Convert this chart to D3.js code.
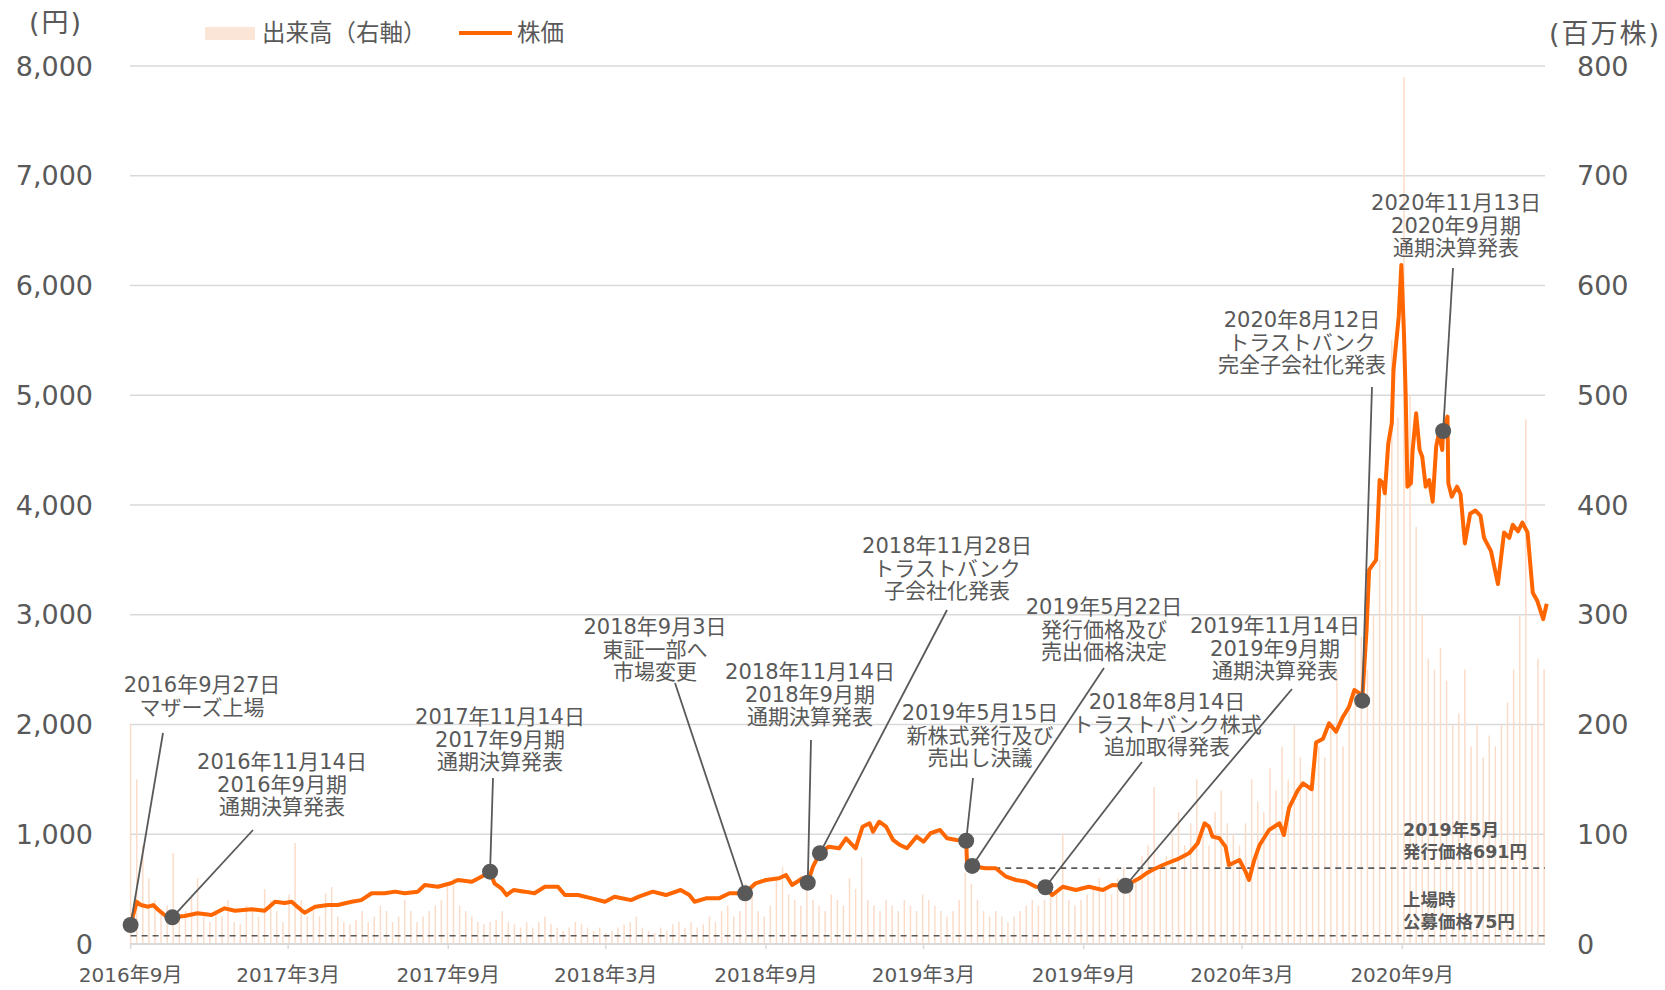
<!DOCTYPE html>
<html>
<head>
<meta charset="utf-8">
<script src="https://cdn.jsdelivr.net/npm/d3@7"></script>
<style>
  body { margin: 0; background: #fff; }
  text { font-family: "DejaVu Sans", "Noto Sans CJK JP", sans-serif; fill: #595959; }
</style>
</head>
<body>
<svg id="chart"></svg>
<script>
// ---- data ----
var priceDates = [
  "2016-09-27","2016-10-04","2016-10-09","2016-10-17","2016-10-23","2016-10-29","2016-11-05","2016-11-14",
  "2016-11-28","2016-12-13","2016-12-29","2017-01-13","2017-01-25","2017-02-13","2017-02-28","2017-03-12",
  "2017-03-23","2017-03-31","2017-04-11","2017-04-15","2017-04-27","2017-05-12","2017-05-23","2017-06-08",
  "2017-06-19","2017-07-01","2017-07-16","2017-07-28","2017-08-08","2017-08-23","2017-08-31","2017-09-15",
  "2017-09-30","2017-10-08","2017-10-24","2017-11-04","2017-11-14","2017-11-19","2017-11-27","2017-12-03",
  "2017-12-11","2017-12-24","2018-01-04","2018-01-16","2018-01-31","2018-02-08","2018-02-23","2018-03-11",
  "2018-03-26","2018-04-06","2018-04-25","2018-05-04","2018-05-20","2018-06-04","2018-06-21","2018-07-01",
  "2018-07-07","2018-07-20","2018-08-04","2018-08-16","2018-09-03","2018-09-15","2018-09-27","2018-10-12",
  "2018-10-20","2018-10-27","2018-11-08","2018-11-14","2018-11-20","2018-11-28","2018-12-08","2018-12-20",
  "2018-12-28","2019-01-08","2019-01-16","2019-01-24","2019-01-28","2019-02-04","2019-02-12","2019-02-20",
  "2019-02-28","2019-03-08","2019-03-19","2019-03-27","2019-04-04","2019-04-15","2019-04-23","2019-05-04",
  "2019-05-15","2019-05-16","2019-05-22","2019-06-06","2019-06-18","2019-06-30","2019-07-11","2019-07-23",
  "2019-08-03","2019-08-14","2019-08-22","2019-09-03","2019-09-18","2019-10-03","2019-10-19","2019-10-30",
  "2019-11-14","2019-11-30","2019-12-08","2019-12-15","2019-12-27","2020-01-15","2020-01-26","2020-02-05",
  "2020-02-13","2020-02-18","2020-02-22","2020-03-01","2020-03-08","2020-03-12","2020-03-24","2020-03-31",
  "2020-04-04","2020-04-10","2020-04-16","2020-04-27","2020-05-09","2020-05-14","2020-05-20","2020-05-30",
  "2020-06-05","2020-06-15","2020-06-20","2020-06-28","2020-07-05","2020-07-13","2020-07-21","2020-07-28",
  "2020-08-03","2020-08-09","2020-08-12","2020-08-17","2020-08-20","2020-08-28","2020-09-01","2020-09-05",
  "2020-09-07","2020-09-11","2020-09-15","2020-09-17","2020-09-23","2020-09-26","2020-09-29","2020-10-01",
  "2020-10-03","2020-10-07","2020-10-09","2020-10-13","2020-10-17","2020-10-20","2020-10-24","2020-10-28",
  "2020-11-01","2020-11-05","2020-11-08","2020-11-12","2020-11-13","2020-11-18","2020-11-19","2020-11-23",
  "2020-11-29","2020-12-03","2020-12-08","2020-12-14","2020-12-20","2020-12-26","2020-12-30","2021-01-07",
  "2021-01-15","2021-01-22","2021-01-28","2021-02-01","2021-02-07","2021-02-12","2021-02-18","2021-02-24",
  "2021-03-01","2021-03-08","2021-03-12"
];
var prices = [
  173, 385, 355, 340, 355, 310, 264, 243,
  255, 280, 264, 325, 303, 316, 303, 385,
  373, 385, 310, 285, 340, 355, 355, 385,
  400, 462, 462, 477, 462, 477, 538, 522,
  553, 583, 568, 613, 659, 553, 507, 446,
  492, 477, 462, 522, 522, 446, 446, 416,
  385, 431, 400, 431, 477, 446, 492, 446,
  385, 416, 416, 462, 462, 553, 583, 599,
  629, 538, 599, 559, 705, 828, 887, 872,
  963, 872, 1069, 1100, 1023, 1114, 1069, 948,
  902, 872, 978, 932, 1009, 1039, 963, 948,
  941, 735, 711, 690, 690, 613, 583, 568,
  522, 517, 446, 522, 492, 522, 492, 538,
  531, 599, 644, 674, 720, 781, 826, 918,
  1100, 1069, 978, 963, 887, 720, 765, 659,
  583, 765, 900, 1039, 1100, 993, 1240, 1400,
  1464, 1410, 1835, 1870, 2011, 1935, 2071, 2162,
  2314, 2284, 2217, 2861, 3408, 3500, 4228, 4198,
  4107, 4562, 4744, 5230, 5716, 6187, 5565, 4987,
  4167, 4198, 4501, 4835, 4501, 4440, 4167, 4228,
  4030, 4532, 4653, 4501, 4674, 4805, 4198, 4076,
  4167, 4100, 3650, 3920, 3950, 3900, 3700, 3580,
  3280, 3750, 3700, 3820, 3760, 3840, 3750, 3200,
  3130, 2960, 3100
];

// weekly volume (million shares), week 0 = 2016-09-27
var volStart = "2016-09-27";
var volumes = [
  200, 150, 90, 60,
  40, 30, 35, 83, 25, 30, 45, 60, 25,
  20, 30, 25, 40, 20, 18, 35, 30, 25, 50, 40, 30, 20, 45, 92, 40, 25, 30, 25, 46, 52, 25, 20, 18, 22, 30, 20,
  25, 35, 30, 20, 25, 40, 30, 20, 25, 30, 35, 40, 52, 60, 35, 30, 25, 20, 18, 20, 22, 30, 20, 18, 15, 20,
  15, 20, 25, 18, 15, 12, 15, 20, 18, 15, 12, 15, 10, 12, 15, 18, 20, 25, 15, 12, 10, 15, 12, 18, 20, 15,
  20, 15, 18, 25, 20, 30, 35, 25, 30, 55, 45, 30, 25, 35, 60, 70, 45, 40, 35, 50, 40, 35, 30, 45, 40, 35,
  60, 50, 79, 40, 35, 30, 40, 35, 30, 40, 35, 30, 45, 40, 35, 30, 25, 30, 40, 65, 55, 40, 30, 25, 30, 25,
  20, 25, 30, 35, 40, 35, 40, 45, 50, 101, 40, 35, 40, 45, 50, 60, 50, 45, 60, 70, 55, 60, 80, 90, 143, 70,
  80, 100, 120, 90, 110, 150, 100, 90, 120, 140, 110, 100, 90, 110, 150, 130, 120, 160, 140, 180, 150, 200, 170, 140, 160, 180,
  170, 200, 250, 180, 220, 300, 280, 250, 300, 350, 420, 550, 480, 790, 500, 380, 300, 260, 250, 270, 240, 200, 210, 250, 180, 200,
  170, 190, 180, 200, 220, 250, 300, 478, 200, 260, 250
];

var tickDates = ["2016-09-27","2017-03-27","2017-09-27","2018-03-27","2018-09-27","2019-03-27","2019-09-27","2020-03-27","2020-09-27"];
var tickLabels = ["2016年9月","2017年3月","2017年9月","2018年3月","2018年9月","2019年3月","2019年9月","2020年3月","2020年9月"];
var priceTicks = [0, 1000, 2000, 3000, 4000, 5000, 6000, 7000, 8000];
var volTicks = [0, 100, 200, 300, 400, 500, 600, 700, 800];

var annDates = ["2016-09-27","2016-11-14","2017-11-14","2018-09-03","2018-11-14","2018-11-28",
                "2019-05-15","2019-05-22","2019-08-14","2019-11-14","2020-08-12","2020-11-13"];
var annTexts = [
  ["2016年9月27日","マザーズ上場"],
  ["2016年11月14日","2016年9月期","通期決算発表"],
  ["2017年11月14日","2017年9月期","通期決算発表"],
  ["2018年9月3日","東証一部へ","市場変更"],
  ["2018年11月14日","2018年9月期","通期決算発表"],
  ["2018年11月28日","トラストバンク","子会社化発表"],
  ["2019年5月15日","新株式発行及び","売出し決議"],
  ["2019年5月22日","発行価格及び","売出価格決定"],
  ["2018年8月14日","トラストバンク株式","追加取得発表"],
  ["2019年11月14日","2019年9月期","通期決算発表"],
  ["2020年8月12日","トラストバンク","完全子会社化発表"],
  ["2020年11月13日","2020年9月期","通期決算発表"]
];
// label placement: [text x, first line y, leader top x, leader top y]
var annLayout = [
  [202, 685, 163, 733], [282, 762, 253, 830], [500, 717, 493, 778],
  [655, 627, 675, 683], [810, 672, 811, 740], [947, 546, 947, 610],
  [980, 713, 973, 778], [1104, 607, 1104, 668], [1167, 702, 1142, 762],
  [1275, 626, 1292, 689], [1302, 320, 1372, 387], [1456, 203, 1453, 268]
];

var refPrices = [691, 75];
var refStarts = ["2019-05-22", "2016-09-27"];
var refTexts = [["2019年5月","発行価格691円"], ["上場時","公募価格75円"]];

// ---- setup ----
var svgWidth = 1665, svgHeight = 990;
var parse = d3.timeParse("%Y-%m-%d");

var svg = d3.select("#chart")
  .attr("width", svgWidth)
  .attr("height", svgHeight);

var xScale = d3.scaleTime()
  .domain([parse("2016-09-27"), parse("2021-03-12")])
  .range([130.6, 1546.7]);

var yPrice = d3.scaleLinear().domain([0, 8000]).range([944, 66]);
var yVol = d3.scaleLinear().domain([0, 800]).range([944, 66]);

var plotLeft = 130, plotRight = 1545;

// gridlines
svg.append("g").selectAll("line")
  .data(priceTicks.filter(d => d > 0))
  .enter().append("line")
  .attr("x1", plotLeft).attr("x2", plotRight)
  .attr("y1", d => yPrice(d)).attr("y2", d => yPrice(d))
  .attr("stroke", "#d9d9d9").attr("stroke-width", 1.5);

// volume bars
var volData = volumes.map(function(v, i) {
  return { date: d3.timeDay.offset(parse(volStart), 7 * i), v: v };
});
svg.append("g").selectAll("rect")
  .data(volData)
  .enter().append("rect")
  .attr("x", d => xScale(d.date) - 0.75)
  .attr("y", d => yVol(d.v))
  .attr("width", 1.5)
  .attr("height", d => yVol(0) - yVol(d.v))
  .attr("fill", "#fbdcc8");

// axis line + ticks
svg.append("line")
  .attr("x1", plotLeft).attr("x2", plotRight)
  .attr("y1", 944).attr("y2", 944)
  .attr("stroke", "#d9d9d9").attr("stroke-width", 2);

svg.append("g").selectAll("line")
  .data(tickDates)
  .enter().append("line")
  .attr("x1", d => xScale(parse(d))).attr("x2", d => xScale(parse(d)))
  .attr("y1", 944).attr("y2", 949)
  .attr("stroke", "#d9d9d9").attr("stroke-width", 1.5);

svg.append("g").selectAll("text")
  .data(tickDates)
  .enter().append("text")
  .attr("x", d => xScale(parse(d)))
  .attr("y", 975)
  .attr("text-anchor", "middle")
  .attr("dominant-baseline", "central")
  .attr("font-size", 20)
  .text((d, i) => tickLabels[i]);

// y labels
svg.append("g").selectAll("text")
  .data(priceTicks)
  .enter().append("text")
  .attr("x", 93).attr("y", d => yPrice(d))
  .attr("text-anchor", "end")
  .attr("dominant-baseline", "central")
  .attr("font-size", 27)
  .text(d => d3.format(",")(d));

svg.append("g").selectAll("text")
  .data(volTicks)
  .enter().append("text")
  .attr("x", 1577).attr("y", d => yVol(d))
  .attr("text-anchor", "start")
  .attr("dominant-baseline", "central")
  .attr("font-size", 27)
  .text(d => d);

svg.append("text").attr("x", 56).attr("y", 22)
  .attr("text-anchor", "middle").attr("dominant-baseline", "central")
  .attr("font-size", 27).attr("letter-spacing", 2).text("(円)");
svg.append("text").attr("x", 1605).attr("y", 33)
  .attr("text-anchor", "middle").attr("dominant-baseline", "central")
  .attr("font-size", 27).attr("letter-spacing", 2).text("(百万株)");

// reference dashed lines
svg.append("g").selectAll("line")
  .data(refPrices)
  .enter().append("line")
  .attr("x1", (d, i) => xScale(parse(refStarts[i])))
  .attr("x2", plotRight)
  .attr("y1", d => yPrice(d)).attr("y2", d => yPrice(d))
  .attr("stroke", "#595959").attr("stroke-width", 1.6)
  .attr("stroke-dasharray", "6,5");

var refLabelY = [830, 900];
refTexts.forEach(function(lines, i) {
  var t = svg.append("text")
    .attr("x", 1403).attr("y", refLabelY[i])
    .attr("font-size", 17.5).attr("font-weight", "bold")
    .attr("dominant-baseline", "central");
  lines.forEach(function(s, j) {
    t.append("tspan").attr("x", 1403).attr("dy", j === 0 ? 0 : 22).text(s);
  });
});

// price line
var priceData = priceDates.map((d, i) => ({ date: parse(d), v: prices[i] }));
var line = d3.line()
  .x(d => xScale(d.date))
  .y(d => yPrice(d.v));

svg.append("path")
  .datum(priceData)
  .attr("fill", "none")
  .attr("stroke", "#ff6600")
  .attr("stroke-width", 4)
  .attr("stroke-linejoin", "round")
  .attr("d", line);

// annotations
var priceByDate = new Map(priceDates.map((d, i) => [d, prices[i]]));
annDates.forEach(function(d, i) {
  var cx = xScale(parse(d)), cy = yPrice(priceByDate.get(d));
  var lay = annLayout[i];
  svg.append("line")
    .attr("x1", lay[2]).attr("y1", lay[3])
    .attr("x2", cx).attr("y2", cy)
    .attr("stroke", "#595959").attr("stroke-width", 1.8);
  svg.append("circle")
    .attr("cx", cx).attr("cy", cy).attr("r", 8)
    .attr("fill", "#595959");
  var t = svg.append("text")
    .attr("x", lay[0]).attr("y", lay[1])
    .attr("text-anchor", "middle")
    .attr("dominant-baseline", "central")
    .attr("font-size", 21);
  annTexts[i].forEach(function(s, j) {
    t.append("tspan").attr("x", lay[0]).attr("dy", j === 0 ? 0 : 22.5).text(s);
  });
});

// legend
svg.append("rect").attr("x", 205).attr("y", 27).attr("width", 50).attr("height", 13)
  .attr("fill", "#fbe5d6");
svg.append("text").attr("x", 262).attr("y", 33)
  .attr("dominant-baseline", "central").attr("font-size", 23.5).text("出来高（右軸）");
svg.append("line").attr("x1", 459).attr("x2", 512).attr("y1", 33).attr("y2", 33)
  .attr("stroke", "#ff6600").attr("stroke-width", 4);
svg.append("text").attr("x", 517).attr("y", 33)
  .attr("dominant-baseline", "central").attr("font-size", 23.5).text("株価");
</script>
</body>
</html>
